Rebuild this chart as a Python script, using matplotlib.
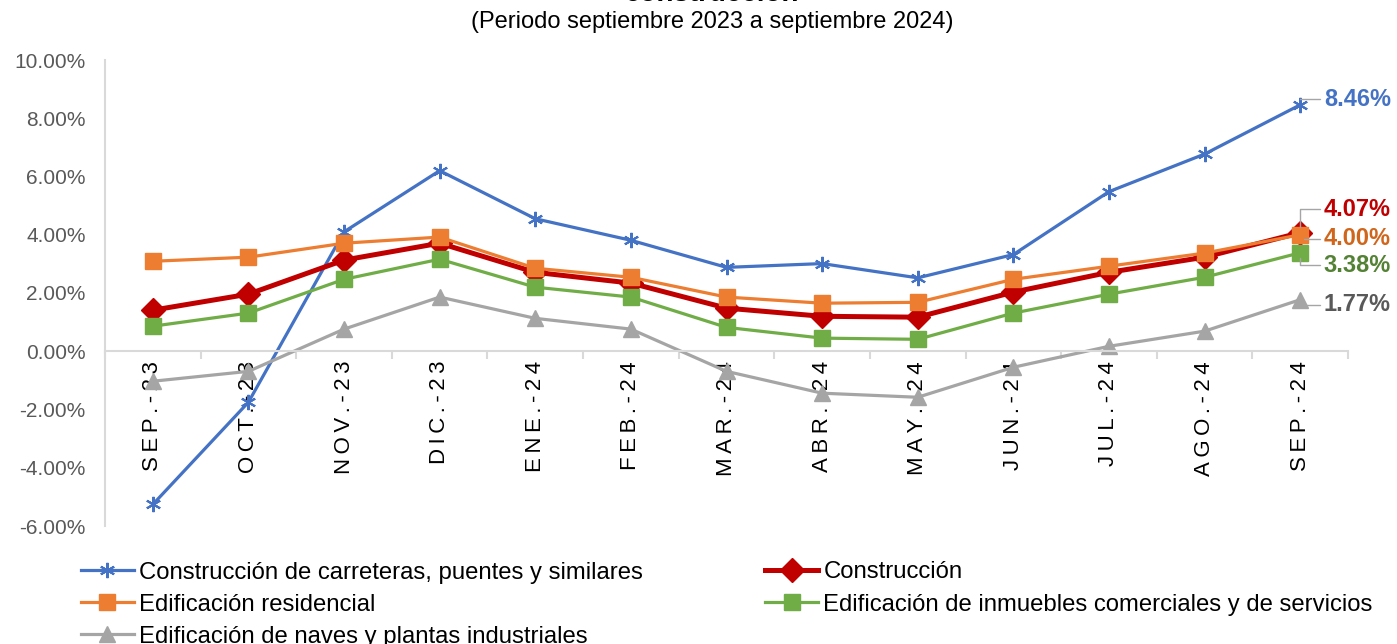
import numpy as np
from matplotlib import pyplot as plt
from matplotlib.ticker import FuncFormatter, FixedLocator

months = ["SEP.-23", "OCT.-23", "NOV.-23", "DIC.-23", "ENE.-24", "FEB.-24", "MAR.-24",
          "ABR.-24", "MAY.-24", "JUN.-24", "JUL.-24", "AGO.-24", "SEP.-24"]

carreteras = [-5.26, -1.75, 4.10, 6.20, 4.55, 3.81, 2.88, 3.01, 2.52, 3.32, 5.48, 6.77, 8.46]
construccion = [1.41, 1.96, 3.13, 3.71, 2.71, 2.34, 1.48, 1.20, 1.17, 2.03, 2.71, 3.23, 4.07]
residencial = [3.09, 3.23, 3.71, 3.92, 2.85, 2.54, 1.86, 1.65, 1.68, 2.47, 2.92, 3.37, 4.00]
comerciales = [0.86, 1.31, 2.47, 3.16, 2.20, 1.86, 0.82, 0.45, 0.41, 1.31, 1.96, 2.54, 3.38]
naves = [-1.03, -0.69, 0.76, 1.86, 1.13, 0.76, -0.69, -1.44, -1.58, -0.55, 0.17, 0.69, 1.77]

names = ["Construcción de carreteras, puentes y similares", "Construcción",
         "Edificación residencial", "Edificación de inmuebles comerciales y de servicios",
         "Edificación de naves y plantas industriales"]


def main():
    plt.rcParams['font.family'] = ['Liberation Sans', 'DejaVu Sans']
    fig = plt.figure(figsize=(13.97, 6.44), dpi=100)
    ax = fig.add_axes([105 / 1397, 1 - 526 / 644, (1348 - 105) / 1397, (526 - 60) / 644])

    x = np.arange(len(months))
    series = [
        (carreteras, '#4472C4', 2.3, (6, 2, 0), 11, '#4472C4'),
        (construccion, '#C00000', 3.6, 'D', 12, '#C00000'),
        (residencial, '#ED7D31', 2.3, 's', 11, '#D0661C'),
        (comerciales, '#70AD47', 2.3, 's', 11, '#548235'),
        (naves, '#A5A5A5', 2.3, '^', 11, '#595959'),
    ]
    handles = []
    for (vals, col, lw, mk, ms, lc), name in zip(series, names):
        v = np.array(vals) / 100
        h, = ax.plot(x, v, color=col, lw=lw, marker=mk, ms=ms, mec=col, mfc=col,
                     mew=1.5 if mk == (6, 2, 0) else 1, label=name)
        handles.append(h)

    # end labels with leader lines
    offsets = [(17, 4), (17, 17), (17, -3), (17, -9), (17, -3.5)]
    for (vals, col, lw, mk, ms, lc), off in zip(series, offsets):
        ax.annotate(f"{vals[-1]:.2f}%", xy=(12, vals[-1] / 100), xytext=off,
                    textcoords='offset points', color=lc, fontsize=17, fontweight='bold',
                    va='center', ha='left',
                    arrowprops=dict(arrowstyle='-', color='#A5A5A5', lw=1,
                                    shrinkA=1, shrinkB=4,
                                    connectionstyle='angle,angleA=0,angleB=90,rad=0'))

    ax.set_xlim(-0.5, 12.5)
    ax.set_ylim(-0.06, 0.10)
    ax.set_yticks(np.arange(-0.06, 0.1001, 0.02))
    ax.yaxis.set_major_formatter(FuncFormatter(lambda v, p: f"{v * 100:.2f}%"))
    ax.tick_params(axis='y', length=0, labelsize=15, labelcolor='#595959', pad=14)

    for s in ['top', 'right']:
        ax.spines[s].set_visible(False)
    ax.spines['left'].set_color('#D9D9D9')
    ax.spines['left'].set_linewidth(1.5)
    ax.spines['bottom'].set_position(('data', 0))
    ax.spines['bottom'].set_color('#D9D9D9')
    ax.spines['bottom'].set_linewidth(1.5)

    ax.set_xticks(x)
    ax.set_xticklabels(["\u2009".join(m) for m in months], rotation=90, fontsize=16,
                       va='top', ha='center')
    ax.tick_params(axis='x', length=0, pad=7)
    ax.xaxis.set_minor_locator(FixedLocator(np.arange(-0.5, 13, 1)))
    ax.tick_params(axis='x', which='minor', length=6, color='#D9D9D9', width=1.5)

    fig.text(0.51, 1 - 1 / 644, "construcción", ha='center', va='baseline',
             fontsize=20, fontweight='bold')
    fig.text(0.51, 1 - 22 / 644, "(Periodo septiembre 2023 a septiembre 2024)",
             ha='center', va='center', fontsize=17)

    order = [0, 2, 4, 1, 3]
    fig.legend([handles[i] for i in order], [names[i] for i in order], ncol=2,
               loc='upper left', bbox_to_anchor=(59 / 1397, 1 - 540 / 644),
               frameon=False, fontsize=17.2, handlelength=2.25, handletextpad=0.2,
               columnspacing=5.1, labelspacing=0.42)

    fig.savefig("out.png", dpi=100)


if __name__ == '__main__':
    main()
